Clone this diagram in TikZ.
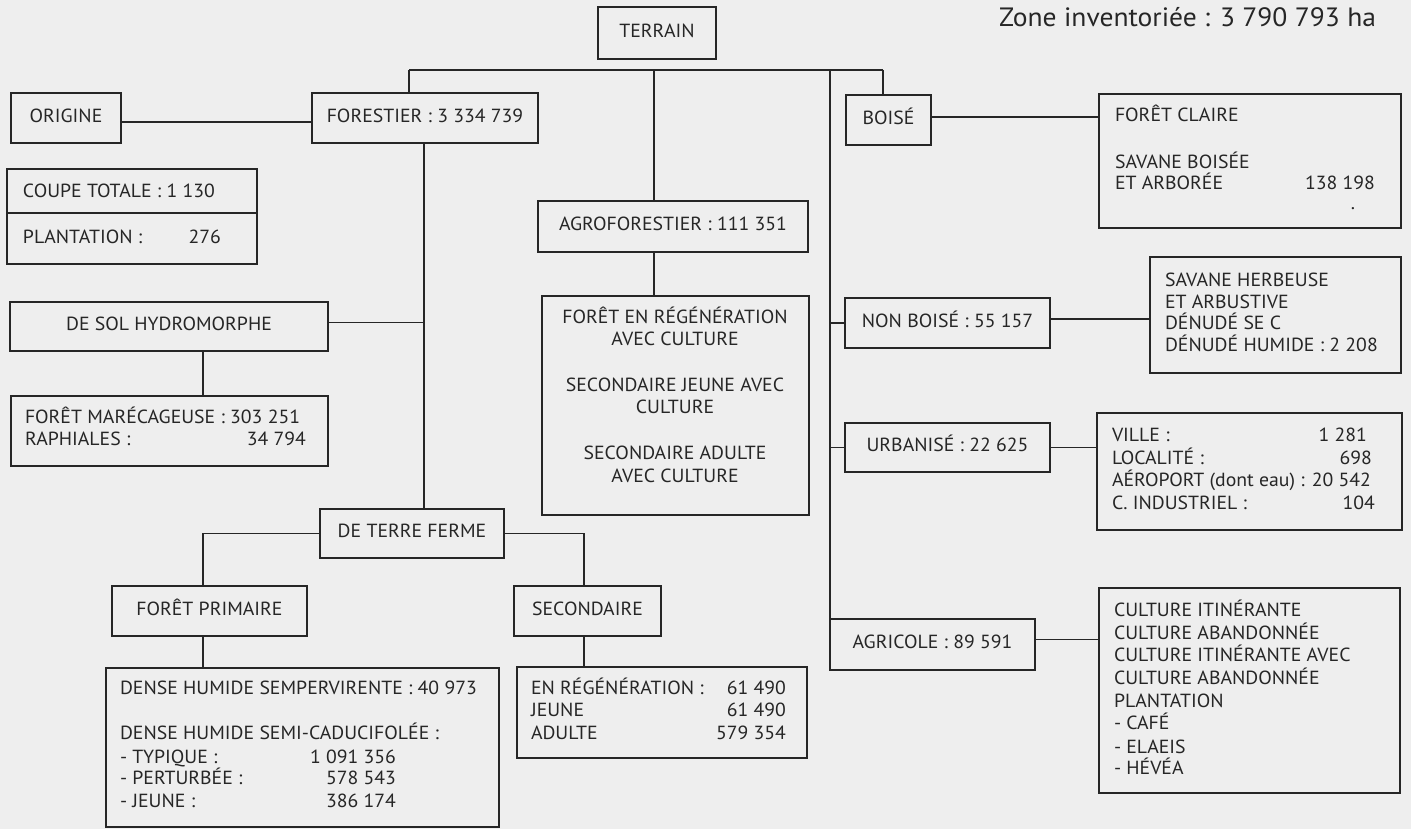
\documentclass[tikz,border=0pt]{standalone}
\usepackage{fontspec}
\setmainfont{PT Sans}[FakeStretch=1.04]
\usetikzlibrary{calc}
\definecolor{bg}{RGB}{238,238,238}
\definecolor{ink}{RGB}{38,38,38}
\newcommand\boxfont{\fontsize{19}{22}\selectfont}
\newcommand\zonefont{\fontsize{26.5}{30}\selectfont}
\newcommand\bx[6]{\node[box, minimum width=#4pt-#2pt, minimum height=#5pt-#3pt] (#1) at ({(#2+#4)/2},{(#3+#5)/2}) {#6};}
\newcommand\txL[4]{\node[txt, anchor=base west] (#1) at (#2,#3) {#4};}
\newcommand\txR[4]{\node[txt, anchor=base east] (#1) at (#2,#3) {#4};}
\newcommand\txC[4]{\node[txt, anchor=base] (#1) at (#2,#3) {#4};}
\begin{document}
\begin{tikzpicture}[x=1pt,y=-1pt,
  box/.style={draw=ink, line width=1.6pt, inner sep=0pt, outer sep=0pt, text=ink, font=\boxfont, text height=13.3pt, text depth=5pt},
  txt/.style={inner sep=0pt, outer sep=0pt, text=ink, font=\boxfont},
  wire/.style={draw=ink, line width=1.6pt}]
\useasboundingbox (0,0) rectangle (1411,829);
\fill[bg] (0,0) rectangle (1411,829);

\node[txt, font=\zonefont, anchor=base east] (zone) at (1376,27) {Zone inventoriée : 3 790 793 ha};

% boxes
\bx{terrain}{598}{7}{716}{59}{TERRAIN}
\bx{origine}{11}{93}{121}{143}{ORIGINE}
\bx{forestier}{312}{93}{538}{143}{FORESTIER : 3 334 739}
\bx{boise}{846}{95}{931}{145}{BOISÉ}
\bx{claire}{1099}{94}{1401}{228}{}
\bx{coupe}{7}{169}{257}{213}{}
\bx{plant}{7}{213}{257}{264}{}
\bx{agro}{538}{201}{808}{252}{AGROFORESTIER : 111 351}
\bx{regen}{542}{296}{809}{515}{}
\bx{desol}{10}{302}{328}{351}{DE SOL HYDROMORPHE}
\bx{marec}{11}{396}{328}{466}{}
\bx{nonboise}{845}{298}{1050}{348}{NON BOISÉ : 55 157}
\bx{savherb}{1150}{257}{1401}{373}{}
\bx{urbanise}{845}{423}{1050}{472}{URBANISÉ : 22 625}
\bx{ville}{1097}{413}{1402}{530}{}
\bx{terreferme}{320}{509}{504}{558}{DE TERRE FERME}
\bx{primaire}{112}{586}{307}{636}{FORÊT PRIMAIRE}
\bx{secondaire}{514}{586}{661}{636}{SECONDAIRE}
\bx{agricole}{830}{619}{1035}{670}{AGRICOLE : 89 591}
\bx{culture}{1099}{588}{1400}{793}{}
\bx{dense}{106}{668}{499}{827}{}
\bx{secsub}{517}{667}{807}{758}{}

% texts in multi-line boxes
\txL{c1}{1115}{121.5}{FORÊT CLAIRE}
\txL{c2}{1115}{168.5}{SAVANE BOISÉE}
\txL{c3}{1115}{189.5}{ET ARBORÉE}
\txR{c4}{1375}{189.5}{138 198}
\txC{c5}{1353}{210}{.}

\txL{k1}{23}{197.5}{COUPE TOTALE : 1 130}
\txL{k2}{23}{243.5}{PLANTATION :}
\txR{k3}{221}{243.5}{276}

\txC{r1}{675}{323.5}{FORÊT EN RÉGÉNÉRATION}
\txC{r2}{675}{345.5}{AVEC CULTURE}
\txC{r3}{675}{391.5}{SECONDAIRE JEUNE AVEC}
\txC{r4}{675}{413.5}{CULTURE}
\txC{r5}{675}{459.5}{SECONDAIRE ADULTE}
\txC{r6}{675}{482.5}{AVEC CULTURE}

\txL{m1}{25}{423.5}{FORÊT MARÉCAGEUSE : 303 251}
\txL{m2}{25}{445.5}{RAPHIALES :}
\txR{m3}{306}{445.5}{34 794}

\txL{h1}{1165}{286}{SAVANE HERBEUSE}
\txL{h2}{1165}{308}{ET ARBUSTIVE}
\txL{h3}{1165}{329.5}{DÉNUDÉ SE C}
\txL{h4}{1165}{351.5}{DÉNUDÉ HUMIDE : 2 208}

\txL{v1}{1112}{441.5}{VILLE :}
\txR{v2}{1367}{441.5}{1 281}
\txL{v3}{1112}{464.5}{LOCALITÉ :}
\txR{v4}{1372}{464.5}{698}
\txL{v5}{1112}{486.5}{AÉROPORT (dont eau) : 20 542}
\txL{v6}{1112}{509.5}{C. INDUSTRIEL :}
\txR{v7}{1375}{509.5}{104}

\txL{u1}{1114}{616.5}{CULTURE ITINÉRANTE}
\txL{u2}{1114}{639.5}{CULTURE ABANDONNÉE}
\txL{u3}{1114}{661.5}{CULTURE ITINÉRANTE AVEC}
\txL{u4}{1114}{684.5}{CULTURE ABANDONNÉE}
\txL{u5}{1114}{707.5}{PLANTATION}
\txL{u6}{1114}{729.5}{- CAFÉ}
\txL{u7}{1114}{753.5}{- ELAEIS}
\txL{u8}{1114}{774.5}{- HÉVÉA}

\txL{e1}{120}{694.5}{DENSE HUMIDE SEMPERVIRENTE : 40 973}
\txL{e2}{120}{739.5}{DENSE HUMIDE SEMI-CADUCIFOLÉE :}
\txL{e3}{120}{763.5}{- TYPIQUE :}
\txR{e4}{396}{763.5}{1 091 356}
\txL{e5}{120}{784.5}{- PERTURBÉE :}
\txR{e6}{396}{784.5}{578 543}
\txL{e7}{120}{807.5}{- JEUNE :}
\txR{e8}{396}{807.5}{386 174}

\txL{s1}{531}{694.5}{EN RÉGÉNÉRATION :}
\txR{s2}{786}{694.5}{61 490}
\txL{s3}{531}{716.5}{JEUNE}
\txR{s4}{786}{716.5}{61 490}
\txL{s5}{531}{739.5}{ADULTE}
\txR{s6}{786}{739.5}{579 354}

% connectors
\coordinate (busL) at (409,70);
\coordinate (busA) at (654,70);
\coordinate (busS) at (830,70);
\coordinate (busR) at (883,70);
\coordinate (fsx) at (424,0);
\coordinate (lx) at (203,0);
\coordinate (rx) at (584,0);
\draw[wire] (busL) -- (busR);
\draw[wire] (busL) -- (busL |- forestier.north);
\draw[wire] (busA) -- (busA |- agro.north);
\draw[wire] (busS) -- (busS |- agricole.north);
\draw[wire] (busR) -- (busR |- boise.north);
\draw[wire] ([yshift=-4pt]origine.east) coordinate (pO) -- (pO -| forestier.west);
\draw[wire] (forestier.south -| fsx) -- (terreferme.north -| fsx);
\draw[wire] ([yshift=4pt]desol.east) coordinate (pD) -- (pD -| fsx);
\draw[wire] (desol.south -| lx) -- (marec.north -| lx);
\draw[wire] (terreferme.west) -| (lx |- primaire.north);
\draw[wire] (primaire.south -| lx) -- (dense.north -| lx);
\draw[wire] (terreferme.east) -| (rx |- secondaire.north);
\draw[wire] (secondaire.south -| rx) -- (secsub.north -| rx);
\draw[wire] (agro.south -| busA) -- (regen.north -| busA);
\draw[wire] (busS |- nonboise.west) -- (nonboise.west);
\draw[wire] (busS |- urbanise.west) -- (urbanise.west);
\draw[wire] ([yshift=3pt]boise.east) coordinate (pB) -- (pB -| claire.west);
\draw[wire] ([yshift=4pt]nonboise.east) coordinate (pN) -- (pN -| savherb.west);
\draw[wire] (urbanise.east) -- (urbanise.east -| ville.west);
\draw[wire] ([yshift=5pt]agricole.east) coordinate (pA) -- (pA -| culture.west);
\end{tikzpicture}
\end{document}
